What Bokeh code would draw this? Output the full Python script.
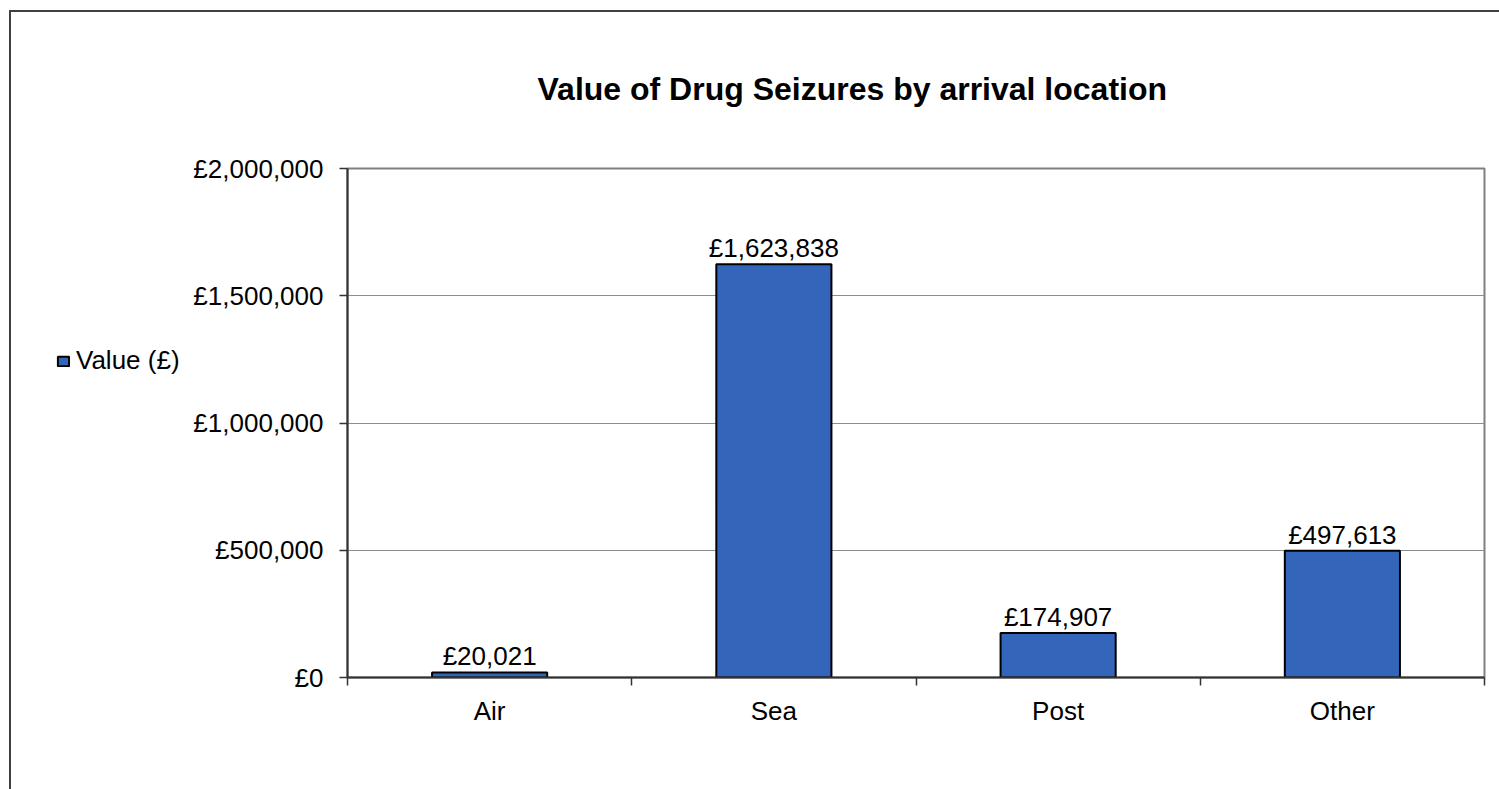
from bokeh.plotting import figure
from bokeh.layouts import row
from bokeh.models import (ColumnDataSource, Range1d, FixedTicker, CustomJSTickFormatter,
                          Title, Legend, LegendItem, LabelSet)
from bokeh.core.properties import value
from bokeh.embed import file_html
from bokeh.resources import INLINE

# Data
categories = ["Air", "Sea", "Post", "Other"]
values = [20021, 1623838, 174907, 497613]
series_name = "Value (£)"
title_text = "Value of Drug Seizures by arrival location"
y_ticks = [0, 500000, 1000000, 1500000, 2000000]

FONT = "Liberation Sans"
BAR_COLOR = "#3366BB"
BAR_WIDTH = 0.405

W, H = 1499, 789
KEY_W = 190                      # width of the key column on the left
LEFT, RIGHT, TOP, BOTTOM = 347, 1484, 168, 677

xs = [i + 0.5 for i in range(len(categories))]
labels = ["£" + format(v, ",") for v in values]
src = ColumnDataSource(dict(x=xs, top=values, cat=categories, label=labels))

# ---- main chart ----
p = figure(width=W - KEY_W, height=H, output_backend="svg", toolbar_location=None,
           x_range=Range1d(0, len(categories)), y_range=Range1d(0, 2000000),
           min_border_left=LEFT - KEY_W, min_border_right=W - RIGHT,
           min_border_top=TOP, min_border_bottom=H - BOTTOM)
p.background_fill_color = "white"
p.border_fill_alpha = 0
p.outline_line_color = "#808080"
p.outline_line_width = 2

p.title = Title(text=title_text, align="left", offset=190, standoff=123,
                text_font=FONT, text_font_size="32px", text_font_style="bold",
                text_color="black")

p.vbar(x="x", top="top", width=BAR_WIDTH, bottom=0, source=src,
       fill_color=BAR_COLOR, line_color="black", line_width=2)

p.add_layout(LabelSet(x="x", y="top", text="label", source=src,
                      text_font=value(FONT), text_font_size=value("26px"),
                      text_color="black", text_align="center",
                      text_baseline="alphabetic", y_offset=7))

# Y axis
p.yaxis.ticker = FixedTicker(ticks=y_ticks)
p.yaxis.formatter = CustomJSTickFormatter(code="""
    return "£" + Math.round(tick).toString().replace(/\\B(?=(\\d{3})+(?!\\d))/g, ",");
""")
p.yaxis.major_label_text_font = FONT
p.yaxis.major_label_text_font_size = "26px"
p.yaxis.major_label_text_color = "black"
p.yaxis.major_label_standoff = 16
p.yaxis.major_tick_out = 8
p.yaxis.major_tick_in = 0
p.yaxis.minor_tick_line_color = None
p.yaxis.axis_line_color = "#333333"
p.yaxis.axis_line_width = 2
p.yaxis.major_tick_line_color = "#333333"
p.yaxis.major_tick_line_width = 1.5

# X axis: labels at category centres, ticks at category boundaries
p.xaxis.ticker = FixedTicker(ticks=xs, minor_ticks=list(range(len(categories) + 1)))
p.xaxis.major_label_overrides = {x: c for x, c in zip(xs, categories)}
p.xaxis.major_label_text_font = FONT
p.xaxis.major_label_text_font_size = "26px"
p.xaxis.major_label_text_color = "black"
p.xaxis.major_label_standoff = 10
p.xaxis.major_tick_out = 0
p.xaxis.major_tick_in = 0
p.xaxis.minor_tick_out = 8
p.xaxis.minor_tick_in = 0
p.xaxis.minor_tick_line_color = "#333333"
p.xaxis.minor_tick_line_width = 1.5
p.xaxis.axis_line_color = "#333333"
p.xaxis.axis_line_width = 2

p.xgrid.grid_line_color = None
p.ygrid.ticker = FixedTicker(ticks=y_ticks)
p.ygrid.grid_line_color = "#8c8c8c"
p.ygrid.grid_line_width = 1

# ---- key column ----
k = figure(width=KEY_W, height=H, output_backend="svg", toolbar_location=None,
           x_range=Range1d(0, 1), y_range=Range1d(0, 1),
           min_border=0, x_axis_type=None, y_axis_type=None)
k.grid.visible = False
k.background_fill_alpha = 0
k.border_fill_alpha = 0
k.outline_line_color = None
# swatch renderer kept outside the visible range; only its key entry is seen
key_r = k.vbar(x=[5], top=[0], width=BAR_WIDTH,
               fill_color=BAR_COLOR, line_color="black", line_width=2)
k.add_layout(Legend(items=[LegendItem(label=series_name, renderers=[key_r])],
                    location=(56, 301),
                    glyph_width=14, glyph_height=12, label_standoff=6,
                    label_text_font=FONT, label_text_font_size="26px",
                    label_text_color="black",
                    label_text_baseline="middle", label_height=26,
                    padding=0, margin=0, spacing=0,
                    border_line_alpha=0, background_fill_alpha=0))

layout = row(k, p, spacing=0)
# Chart area border (left and top edges of the chart box)
layout.styles = {
    "background-color": "white",
    "background-image": "linear-gradient(#404040, #404040), linear-gradient(#404040, #404040)",
    "background-size": "2px 100%, 100% 2px",
    "background-position": "9px 10px, 9px 10px",
    "background-repeat": "no-repeat",
}

open("out.html", "w").write(file_html(layout, INLINE))
